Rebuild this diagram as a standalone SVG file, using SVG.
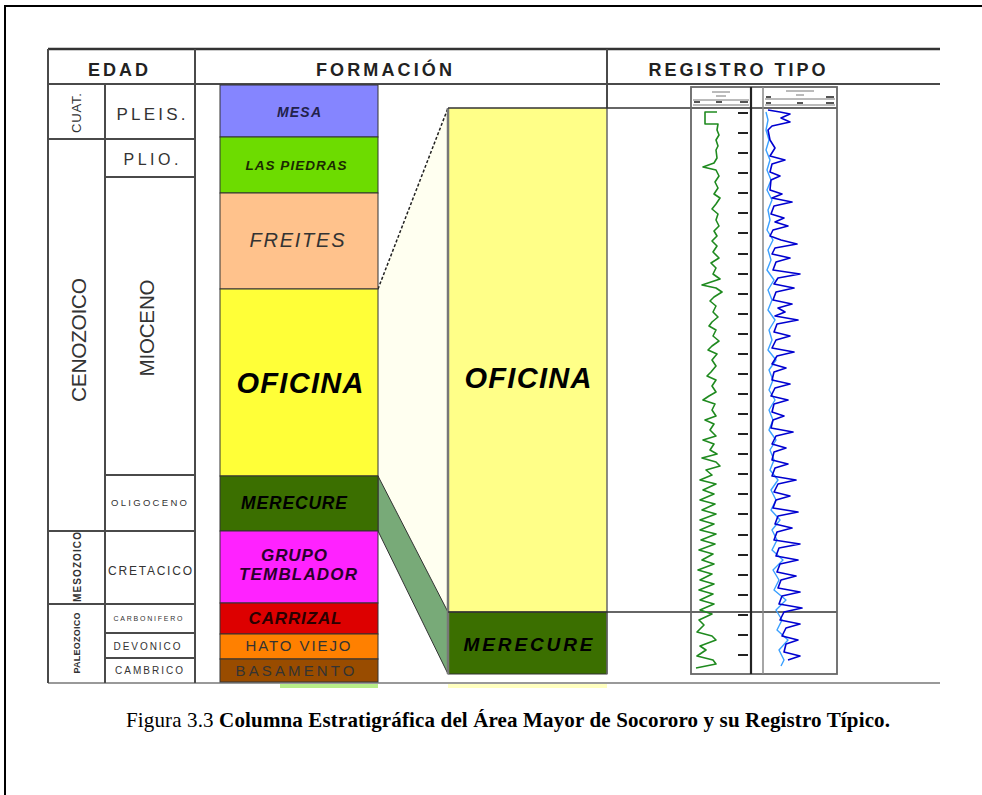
<svg xmlns="http://www.w3.org/2000/svg" width="982" height="795" viewBox="0 0 982 795">
<style>
.tl{stroke:#4a4a4a;stroke-width:2;fill:none}
.th{stroke:#333;stroke-width:2.5;fill:none}
.hdr{font-family:"Liberation Sans",Arial,sans-serif;font-weight:bold;font-size:18px;fill:#222}
.age{font-family:"Liberation Sans",Arial,sans-serif;fill:#333}
.fm{font-family:"Liberation Sans",Arial,sans-serif;font-weight:bold;font-style:italic}
.blk{stroke:#333;stroke-width:1}
.tick{stroke:#222;stroke-width:2}
.cap{font-family:"Liberation Serif","Times New Roman",serif;font-size:21px;fill:#000}
</style>
<rect width="982" height="795" fill="#fff"/>
<!-- page frame -->
<path d="M5,795 V6 H982" fill="none" stroke="#000" stroke-width="2"/>

<!-- table frame -->
<g id="table">
<line class="th" x1="48" y1="49" x2="940" y2="49"/>
<line class="tl" x1="48" y1="84" x2="940" y2="84"/>
<line x1="48" y1="683" x2="940" y2="683" stroke="#999" stroke-width="2"/>
<line class="tl" x1="48" y1="49" x2="48" y2="683"/>
<line class="tl" x1="105" y1="84" x2="105" y2="683"/>
<line class="tl" x1="195" y1="49" x2="195" y2="683"/>
<line class="tl" x1="607" y1="49" x2="607" y2="108"/>
<text class="hdr" x="118" y="76" text-anchor="middle" textLength="60">EDAD</text>
<text class="hdr" x="384" y="76" text-anchor="middle" textLength="136">FORMACIÓN</text>
<text class="hdr" x="737" y="76" text-anchor="middle" textLength="177">REGISTRO TIPO</text>
<!-- remnants below table -->
<rect x="280" y="684" width="98" height="4" fill="#b8ee88"/>
<rect x="448" y="684" width="159" height="4" fill="#ffffc0"/>
</g>

<!-- era column -->
<g id="eras">
<line class="tl" x1="48" y1="139" x2="195" y2="139"/>
<line class="tl" x1="48" y1="531" x2="195" y2="531"/>
<line class="tl" x1="48" y1="604" x2="195" y2="604"/>
<text class="age" transform="translate(76,113) rotate(-90)" text-anchor="middle" dy="0.35em" font-size="13" textLength="40">CUAT.</text>
<text class="age" transform="translate(78,340) rotate(-90)" text-anchor="middle" dy="0.36em" font-size="21" fill="#222" textLength="124">CENOZOICO</text>
<text class="age" transform="translate(77,567) rotate(-90)" text-anchor="middle" dy="0.35em" font-size="10" font-weight="bold" textLength="70">MESOZOICO</text>
<text class="age" transform="translate(77,643) rotate(-90)" text-anchor="middle" dy="0.35em" font-size="9" font-weight="bold" textLength="61">PALEOZOICO</text>
</g>

<!-- epoch column -->
<g id="epochs">
<line class="tl" x1="105" y1="177" x2="195" y2="177"/>
<line class="tl" x1="105" y1="475" x2="195" y2="475"/>
<line class="tl" x1="105" y1="633" x2="195" y2="633"/>
<line class="tl" x1="105" y1="658" x2="195" y2="658"/>
<text class="age" x="151" y="120" text-anchor="middle" font-size="17" textLength="69">PLEIS.</text>
<text class="age" x="151" y="165" text-anchor="middle" font-size="16" textLength="55">PLIO.</text>
<text class="age" transform="translate(147,328) rotate(-90)" text-anchor="middle" dy="0.36em" font-size="20.5" fill="#222" textLength="97">MIOCENO</text>
<text class="age" x="149" y="506" text-anchor="middle" font-size="9.5" fill="#444" textLength="76">OLIGOCENO</text>
<text class="age" x="150" y="575" text-anchor="middle" font-size="12" fill="#333" textLength="84">CRETACICO</text>
<text class="age" x="148" y="621" text-anchor="middle" font-size="7" fill="#444" textLength="69">CARBONIFERO</text>
<text class="age" x="147" y="650" text-anchor="middle" font-size="10" fill="#444" textLength="67">DEVONICO</text>
<text class="age" x="149" y="674" text-anchor="middle" font-size="10" fill="#333" textLength="68">CAMBRICO</text>
</g>

<!-- connectors (projection bands) -->
<g id="connectors">
<polygon points="378,289 448,108 448,612 378,476" fill="#fffff0"/>
<line x1="378" y1="289" x2="448" y2="108" stroke="#222" stroke-width="1.5" stroke-dasharray="3,2"/>
<polygon points="378,476 448,612 448,674 378,531" fill="#78aa78" stroke="#333" stroke-width="1"/>
</g>

<!-- formation column -->
<g id="fm-mesa"><rect class="blk" x="220" y="85" width="158" height="52" fill="#8585ff"/>
<text class="fm" x="299" y="117" text-anchor="middle" font-size="14" fill="#22224a" textLength="44">MESA</text></g>
<g id="fm-piedras"><rect class="blk" x="220" y="137" width="158" height="56" fill="#6ddc00"/>
<text class="fm" x="296" y="170" text-anchor="middle" font-size="13.5" fill="#1a2a00" textLength="101">LAS PIEDRAS</text></g>
<g id="fm-freites"><rect class="blk" x="220" y="193" width="158" height="96" fill="#ffc28c"/>
<text class="age" x="297" y="247" text-anchor="middle" font-size="20" font-style="italic" fill="#444" textLength="95">FREITES</text></g>
<g id="fm-oficina"><rect class="blk" x="220" y="289" width="158" height="187" fill="#ffff38"/>
<text class="fm" x="300" y="393" text-anchor="middle" font-size="29" fill="#000" textLength="127">OFICINA</text></g>
<g id="fm-merecure"><rect class="blk" x="220" y="476" width="158" height="55" fill="#3b6f00"/>
<text class="fm" x="294" y="509" text-anchor="middle" font-size="17.5" fill="#000" textLength="106">MERECURE</text></g>
<g id="fm-temblador"><rect class="blk" x="220" y="531" width="158" height="72" fill="#ff22ff"/>
<text class="fm" x="294" y="561" text-anchor="middle" font-size="17" fill="#2a002a" textLength="66">GRUPO</text>
<text class="fm" x="298" y="580" text-anchor="middle" font-size="17" fill="#2a002a" textLength="118">TEMBLADOR</text></g>
<g id="fm-carrizal"><rect class="blk" x="220" y="603" width="158" height="31" fill="#dd0000"/>
<text class="fm" x="295" y="624" text-anchor="middle" font-size="17" fill="#2a0000" textLength="93">CARRIZAL</text></g>
<g id="fm-hatoviejo"><rect class="blk" x="220" y="634" width="158" height="25" fill="#ff8000"/>
<text class="age" x="298" y="651" text-anchor="middle" font-size="15" fill="#5a3200" textLength="105">HATO VIEJO</text></g>
<g id="fm-basamento"><rect class="blk" x="220" y="659" width="158" height="23" fill="#994c00"/>
<text class="age" x="295" y="676" text-anchor="middle" font-size="15" fill="#3a1e00" textLength="119">BASAMENTO</text></g>

<!-- expanded column -->
<g id="exp-oficina"><rect x="448" y="108" width="159" height="504" fill="#ffff88"/>
<text class="fm" x="528" y="388" text-anchor="middle" font-size="29" fill="#000" textLength="127">OFICINA</text></g>
<g id="exp-merecure"><rect x="448" y="612" width="159" height="62" fill="#3b6f00" stroke="#333" stroke-width="1"/>
<text class="fm" x="528" y="651" text-anchor="middle" font-size="19" fill="#000" textLength="129">MERECURE</text></g>
<line x1="448" y1="108" x2="448" y2="674" stroke="#777" stroke-width="2.5"/>
<line x1="607" y1="108" x2="607" y2="674" stroke="#666" stroke-width="1.5"/>
<line x1="448" y1="108" x2="837" y2="108" stroke="#333" stroke-width="1.5"/>
<line x1="448" y1="612" x2="837" y2="612" stroke="#333" stroke-width="1.5"/>

<!-- type log -->
<g id="log">
<rect x="691" y="87" width="146" height="587" fill="none" stroke="#666" stroke-width="1.8"/>
<line x1="751" y1="87" x2="751" y2="674" stroke="#222" stroke-width="2.2"/>
<line x1="763" y1="87" x2="763" y2="674" stroke="#888" stroke-width="1.5"/>
<!-- headers -->
<g stroke="#777" stroke-width="1" fill="none">
<line x1="712" y1="92" x2="730" y2="92"/><line x1="716" y1="96" x2="726" y2="96"/>
<line x1="693" y1="100" x2="749" y2="100"/><line x1="693" y1="105" x2="749" y2="105"/>
<line x1="786" y1="91" x2="814" y2="91"/><line x1="796" y1="95" x2="804" y2="95"/>
<line x1="765" y1="99" x2="835" y2="99"/><line x1="765" y1="105" x2="835" y2="105"/>
</g>
<g fill="#555"><rect x="694" y="101" width="6" height="2"/><rect x="716" y="101" width="6" height="2"/><rect x="740" y="101" width="8" height="2"/>
<rect x="766" y="96" width="5" height="2"/><rect x="826" y="96" width="8" height="2"/><rect x="766" y="102" width="5" height="2"/><rect x="797" y="102" width="6" height="2"/><rect x="826" y="102" width="8" height="2"/></g>
<!-- depth ticks -->
<g class="tick">
<line x1="738" y1="113" x2="748" y2="113"/><line x1="738" y1="133" x2="748" y2="133"/><line x1="738" y1="153" x2="748" y2="153"/><line x1="738" y1="173" x2="748" y2="173"/>
<line x1="738" y1="193" x2="748" y2="193"/><line x1="738" y1="213" x2="748" y2="213"/><line x1="738" y1="233" x2="748" y2="233"/><line x1="738" y1="254" x2="748" y2="254"/>
<line x1="738" y1="274" x2="748" y2="274"/><line x1="738" y1="294" x2="748" y2="294"/><line x1="738" y1="314" x2="748" y2="314"/><line x1="738" y1="334" x2="748" y2="334"/>
<line x1="738" y1="354" x2="748" y2="354"/><line x1="738" y1="374" x2="748" y2="374"/><line x1="738" y1="394" x2="748" y2="394"/><line x1="738" y1="414" x2="748" y2="414"/>
<line x1="738" y1="434" x2="748" y2="434"/><line x1="738" y1="454" x2="748" y2="454"/><line x1="738" y1="474" x2="748" y2="474"/><line x1="738" y1="494" x2="748" y2="494"/>
<line x1="738" y1="514" x2="748" y2="514"/><line x1="738" y1="535" x2="748" y2="535"/><line x1="738" y1="555" x2="748" y2="555"/><line x1="738" y1="575" x2="748" y2="575"/>
<line x1="738" y1="595" x2="748" y2="595"/><line x1="738" y1="615" x2="748" y2="615"/><line x1="738" y1="635" x2="748" y2="635"/><line x1="738" y1="655" x2="748" y2="655"/>
</g>
<!-- GR curve -->
<path fill="none" stroke="#1f8a1f" stroke-width="1.6" stroke-linejoin="round" d="M717,112 L705,112 L705,124 L718,124 L717,130 L719,135 L716,140 L718,146 L716,150 L717,158 L714,163 L703,167 L716,170 L719,176 L715,182 L718,188 L714,194 L720,198 L716,204 L712,209 L718,214 L716,220 L719,226 L714,231 L717,236 L712,241 L717,246 L713,252 L719,258 L711,263 L716,268 L713,274 L720,279 L702,285 L716,288 L722,292 L714,297 L710,301 L716,306 L713,312 L718,317 L712,322 L709,326 L716,330 L713,336 L719,341 L712,346 L708,350 L717,354 L712,360 L716,366 L711,372 L707,376 L716,380 L712,386 L716,392 L709,396 L703,400 L715,404 L712,410 L716,416 L705,420 L714,424 L710,430 L716,436 L703,440 L714,444 L710,450 L717,454 L702,458 L716,462 L720,466 L706,470 L712,475 L700,480 L716,484 L703,490 L714,494 L700,500 L715,504 L702,510 L716,514 L700,520 L714,524 L700,530 L716,534 L701,540 L715,544 L699,550 L713,554 L702,560 L714,564 L698,570 L712,574 L700,580 L714,584 L699,590 L713,594 L700,600 L714,604 L700,610 L712,614 L699,620 L704,625 L697,632 L712,636 L716,640 L700,646 L706,650 L697,656 L713,660 L716,664 L696,668"/>
<!-- light blue curve -->
<path fill="none" stroke="#3aa0ff" stroke-width="1.4" stroke-linejoin="round" d="M766,112 L768,120 L766,130 L769,140 L766,150 L770,160 L767,170 L771,180 L767,190 L772,200 L768,210 L770,220 L767,230 L773,240 L768,250 L771,260 L767,270 L774,280 L768,290 L772,300 L768,310 L775,320 L769,330 L772,340 L768,350 L776,360 L769,370 L773,380 L769,390 L775,400 L769,410 L773,420 L769,430 L776,440 L770,450 L774,460 L770,470 L778,480 L771,490 L776,500 L771,510 L780,520 L772,530 L777,540 L772,550 L783,560 L773,570 L779,580 L774,590 L786,600 L776,610 L782,620 L777,630 L788,640 L779,650 L784,660 L781,666"/>
<!-- dark blue curve -->
<path fill="none" stroke="#0000d0" stroke-width="1.6" stroke-linejoin="round" d="M768,110 L780,112 L790,114 L781,118 L790,122 L772,126 L768,130 L770,140 L775,148 L770,156 L785,160 L772,164 L770,172 L780,176 L771,180 L770,190 L782,194 L772,198 L792,202 L774,206 L771,214 L784,218 L775,222 L788,226 L773,230 L770,236 L781,240 L797,244 L775,248 L772,254 L790,258 L776,262 L773,270 L800,274 L778,278 L774,284 L794,288 L776,292 L773,300 L792,304 L778,308 L785,312 L775,316 L798,320 L777,324 L774,332 L790,336 L776,340 L772,348 L794,352 L777,356 L772,364 L786,368 L774,372 L772,380 L790,384 L775,388 L771,396 L788,400 L774,404 L772,412 L784,416 L773,420 L771,428 L793,432 L776,436 L772,444 L786,448 L774,452 L772,460 L788,464 L775,468 L772,476 L796,480 L778,484 L774,492 L790,496 L776,500 L773,508 L798,512 L778,516 L775,524 L792,528 L777,532 L774,540 L800,544 L779,548 L776,556 L798,560 L780,564 L777,572 L796,576 L781,580 L778,588 L800,592 L782,596 L779,604 L802,608 L784,612 L780,620 L800,624 L786,628 L782,636 L798,640 L786,644 L784,652 L800,656 L788,660"/>
</g>

<!-- caption -->
<text class="cap" x="126" y="727" textLength="764"><tspan>Figura 3.3 </tspan><tspan font-weight="bold">Columna Estratigráfica del Área Mayor de Socororo y su Registro Típico.</tspan></text>
</svg>
